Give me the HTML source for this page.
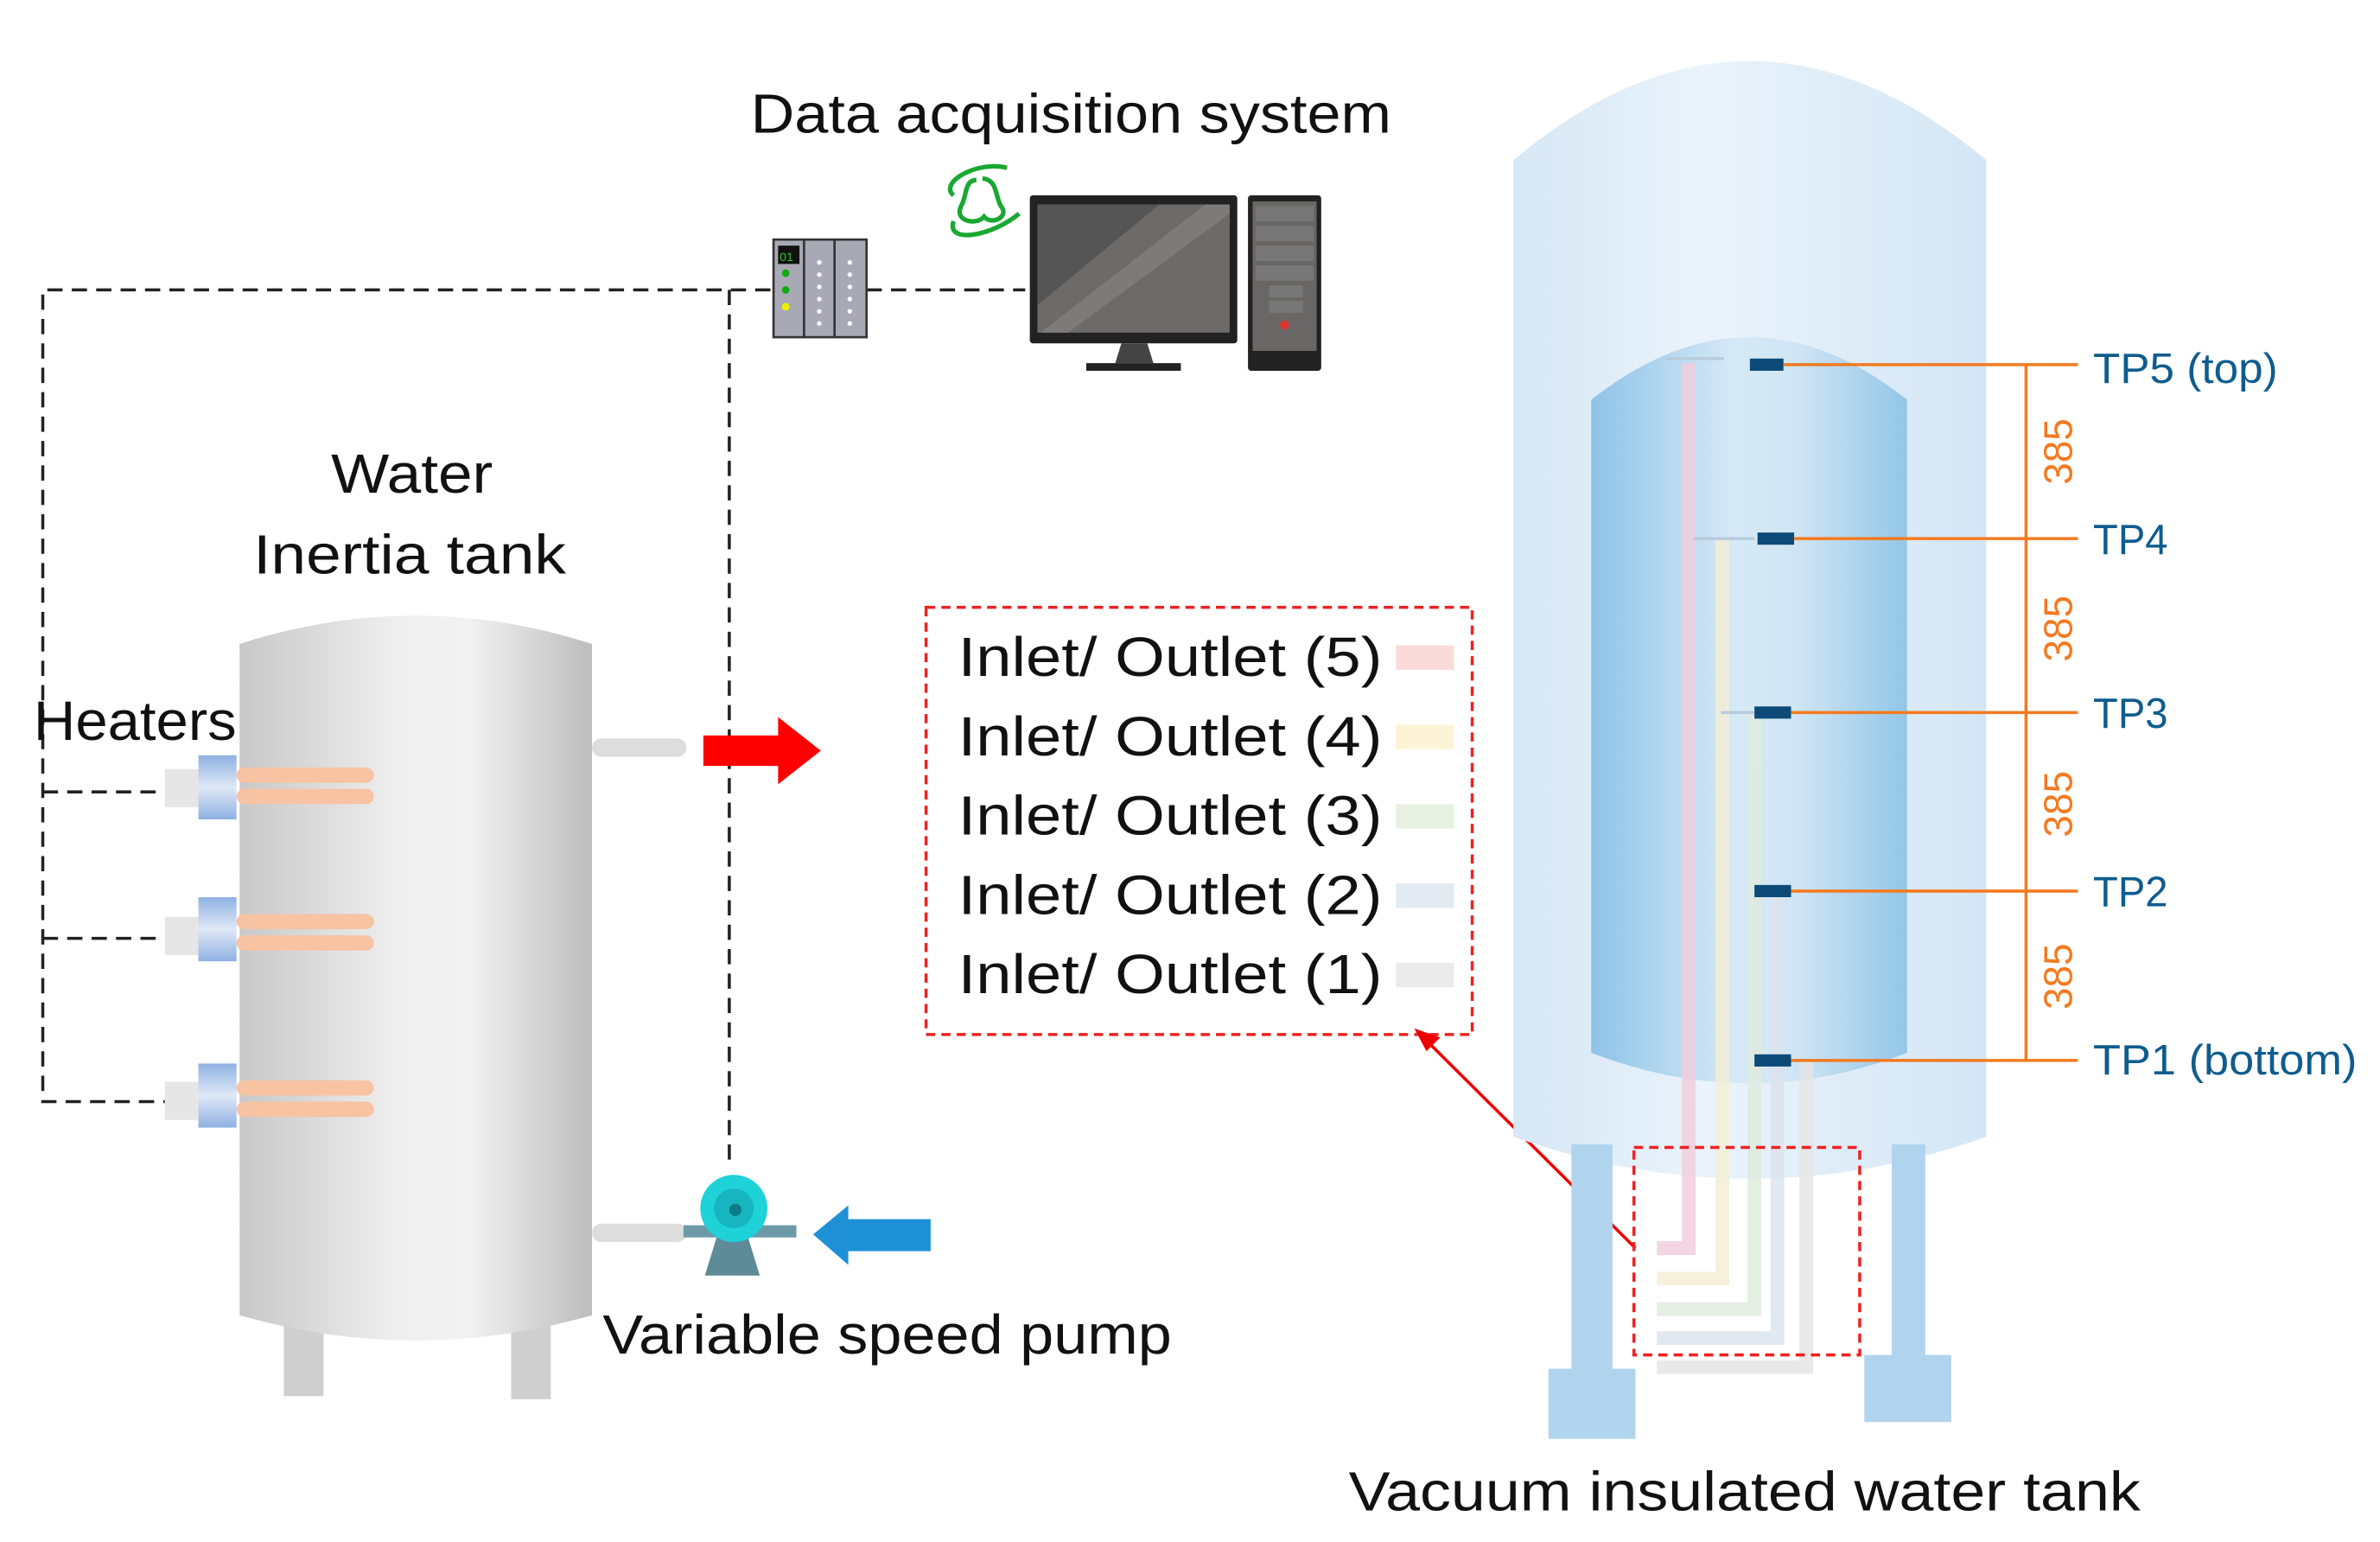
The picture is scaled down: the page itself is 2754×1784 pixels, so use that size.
<!DOCTYPE html>
<html><head><meta charset="utf-8"><style>html,body{margin:0;padding:0;background:#fff}svg{display:block}</style></head>
<body>
<svg width="2754" height="1784" viewBox="0 0 1560 1010.6" xmlns="http://www.w3.org/2000/svg" font-family="'Liberation Sans', sans-serif">
<defs>
<linearGradient id="gt" x1="0" x2="1"><stop offset="0" stop-color="#c8c8c8"/><stop offset="0.45" stop-color="#efefef"/><stop offset="0.65" stop-color="#f2f2f2"/><stop offset="1" stop-color="#bdbdbd"/></linearGradient>
<linearGradient id="go" x1="0" x2="1"><stop offset="0" stop-color="#d6e7f5"/><stop offset="0.4" stop-color="#eaf3fb"/><stop offset="1" stop-color="#d4e6f5"/></linearGradient>
<linearGradient id="gi" x1="0" x2="1"><stop offset="0" stop-color="#8ec3e8"/><stop offset="0.45" stop-color="#d6e9f6"/><stop offset="0.65" stop-color="#d0e5f4"/><stop offset="1" stop-color="#93c6e8"/></linearGradient>
<linearGradient id="gb" x1="0" x2="0" y1="0" y2="1"><stop offset="0" stop-color="#8fb1e3"/><stop offset="0.5" stop-color="#dfe8f6"/><stop offset="1" stop-color="#8fb1e3"/></linearGradient>
</defs>
<text x="492" y="87" font-size="36" textLength="420" lengthAdjust="spacingAndGlyphs" fill="#111">Data acquisition system</text>
<g stroke="#222" stroke-width="2" stroke-dasharray="10,6" fill="none">
<path d="M505 190 H28 V722 H108"/>
<path d="M28 519 H108 M28 615 H108"/>
<path d="M478 190 V760"/>
<path d="M568 190 H672"/>
</g>
<rect x="507" y="157" width="61" height="64" fill="#a9a9b5" stroke="#333" stroke-width="1.5"/>
<line x1="527" y1="157" x2="527" y2="221" stroke="#333" stroke-width="1.5"/>
<line x1="547" y1="157" x2="547" y2="221" stroke="#333" stroke-width="1.5"/>
<rect x="510" y="161" width="14" height="12" fill="#111"/>
<text x="511" y="171" font-size="8" fill="#2c2">01</text>
<circle cx="515" cy="179" r="2.5" fill="#1a1"/><circle cx="515" cy="190" r="2.5" fill="#1a1"/><circle cx="515" cy="201" r="2.5" fill="#ee0"/>
<g fill="#fff"><circle cx="537" cy="172" r="1.5"/><circle cx="537" cy="180" r="1.5"/><circle cx="537" cy="188" r="1.5"/><circle cx="537" cy="196" r="1.5"/><circle cx="537" cy="204" r="1.5"/><circle cx="537" cy="212" r="1.5"/>
<circle cx="557" cy="172" r="1.5"/><circle cx="557" cy="180" r="1.5"/><circle cx="557" cy="188" r="1.5"/><circle cx="557" cy="196" r="1.5"/><circle cx="557" cy="204" r="1.5"/><circle cx="557" cy="212" r="1.5"/></g>
<g fill="none" stroke="#1aa832" stroke-width="3">
<path d="M625 128 C615 120 640 105 660 110"/>
<path d="M625 145 C620 160 650 155 668 140"/>
<path d="M640 118 C632 118 634 128 630 135 C625 145 640 148 645 142 C650 148 662 142 656 135 C652 128 654 118 644 117"/>
</g>
<rect x="675" y="128" width="136" height="97" rx="2" fill="#222"/>
<rect x="680" y="134" width="126" height="84" fill="#6e6a6a"/>
<polygon points="680,134 760,134 680,200" fill="#555"/>
<polygon points="790,134 806,134 806,140 700,218 682,218" fill="#7e7a7a"/>
<polygon points="735,225 752,225 756,238 731,238" fill="#444"/>
<rect x="712" y="238" width="62" height="5" fill="#222"/>
<rect x="818" y="128" width="48" height="115" rx="2" fill="#222"/>
<rect x="821" y="132" width="42" height="98" fill="#6a6666"/>
<g fill="#777"><rect x="823" y="135" width="38" height="10"/><rect x="823" y="148" width="38" height="10"/><rect x="823" y="161" width="38" height="10"/><rect x="823" y="174" width="38" height="10"/><rect x="832" y="187" width="22" height="8"/><rect x="832" y="197" width="22" height="8"/></g>
<circle cx="842" cy="213" r="3" fill="#d33"/>
<text x="217" y="323" font-size="36" textLength="106" lengthAdjust="spacingAndGlyphs" fill="#111">Water</text>
<text x="166" y="376" font-size="36" textLength="205" lengthAdjust="spacingAndGlyphs" fill="#111">Inertia  tank</text>
<rect x="186" y="855" width="26" height="60" fill="#cfcfcf"/>
<rect x="335" y="855" width="26" height="62" fill="#cfcfcf"/>
<path d="M157 422 Q272 385 388 422 V862 Q272 895 157 862 Z" fill="url(#gt)"/>
<rect x="388" y="484" width="62" height="12" rx="6" fill="#ddd"/>
<rect x="388" y="802" width="62" height="12" rx="6" fill="#ddd"/>
<text x="22" y="485" font-size="36" textLength="133" lengthAdjust="spacingAndGlyphs" fill="#111">Heaters</text>
<g>
<rect x="108" y="504" width="24" height="25" fill="#e6e6e6"/><rect x="130" y="495" width="25" height="42" fill="url(#gb)"/>
<rect x="155" y="503" width="90" height="10" rx="5" fill="#f7c3a2"/><rect x="155" y="517" width="90" height="10" rx="5" fill="#f7c3a2"/>
<rect x="108" y="601" width="24" height="25" fill="#e6e6e6"/><rect x="130" y="588" width="25" height="42" fill="url(#gb)"/>
<rect x="155" y="599" width="90" height="10" rx="5" fill="#f7c3a2"/><rect x="155" y="613" width="90" height="10" rx="5" fill="#f7c3a2"/>
<rect x="108" y="709" width="24" height="25" fill="#e6e6e6"/><rect x="130" y="697" width="25" height="42" fill="url(#gb)"/>
<rect x="155" y="708" width="90" height="10" rx="5" fill="#f7c3a2"/><rect x="155" y="722" width="90" height="10" rx="5" fill="#f7c3a2"/>
</g>
<polygon points="461,482 510,482 510,470 538,492 510,514 510,502 461,502" fill="#f00"/>
<polygon points="533,809 556,790 556,799 610,799 610,820 556,820 556,829" fill="#1e90d6"/>
<rect x="448" y="803" width="74" height="8" fill="#6d9aa8"/>
<polygon points="470,810 490,810 498,836 462,836" fill="#5f8a98"/>
<circle cx="481" cy="792" r="22" fill="#1ed2d8"/>
<circle cx="481" cy="792" r="13" fill="#17b5bf"/>
<circle cx="482" cy="793" r="4" fill="#0c7c86"/>
<text x="395" y="887" font-size="36" textLength="373" lengthAdjust="spacingAndGlyphs" fill="#111">Variable speed  pump</text>
<rect x="607" y="398" width="358" height="280" fill="none" stroke="#e22" stroke-width="2" stroke-dasharray="6,4"/>
<g font-size="36" fill="#111">
<text x="628" y="443" textLength="278" lengthAdjust="spacingAndGlyphs">Inlet/ Outlet (5)</text>
<text x="628" y="495" textLength="278" lengthAdjust="spacingAndGlyphs">Inlet/ Outlet (4)</text>
<text x="628" y="547" textLength="278" lengthAdjust="spacingAndGlyphs">Inlet/ Outlet (3)</text>
<text x="628" y="599" textLength="278" lengthAdjust="spacingAndGlyphs">Inlet/ Outlet (2)</text>
<text x="628" y="651" textLength="278" lengthAdjust="spacingAndGlyphs">Inlet/ Outlet (1)</text>
</g>
<rect x="915" y="423" width="38" height="16" fill="#fbdada"/>
<rect x="915" y="475" width="38" height="16" fill="#fdf3d6"/>
<rect x="915" y="527" width="38" height="16" fill="#e8f0e2"/>
<rect x="915" y="579" width="38" height="16" fill="#e4eaf2"/>
<rect x="915" y="631" width="38" height="16" fill="#ebebeb"/>
<line x1="1072" y1="818" x2="934" y2="681" stroke="#e00" stroke-width="2"/>
<polygon points="927,674 944,680 935,689" fill="#e00"/>
<path d="M992 105 Q1147 -25 1302 105 V745 Q1147 800 992 745 Z" fill="url(#go)"/>
<rect x="1030" y="750" width="27" height="150" fill="#b1d4ee"/>
<rect x="1015" y="897" width="57" height="46" fill="#b1d4ee"/>
<rect x="1240" y="750" width="22" height="140" fill="#b1d4ee"/>
<rect x="1222" y="888" width="57" height="44" fill="#b1d4ee"/>
<path d="M1043 262 Q1147 180 1250 262 V690 Q1147 730 1043 690 Z" fill="url(#gi)"/>
<g fill="none" stroke-width="9" opacity="0.85">
<path d="M1107 238 V818 H1086" stroke="#f2cfdc"/>
<path d="M1129 352 V838 H1086" stroke="#f4efd8"/>
<path d="M1150 467 V858 H1086" stroke="#e0ecdf"/>
<path d="M1165 584 V877 H1086" stroke="#dde4ee"/>
<path d="M1184 694 V896 H1086" stroke="#e6e6e6"/>
</g>
<g stroke="#b8ccdc" stroke-width="2"><line x1="1092" y1="235" x2="1130" y2="235"/><line x1="1110" y1="353" x2="1150" y2="353"/><line x1="1128" y1="467" x2="1160" y2="467"/></g>
<rect x="1071" y="752" width="148" height="136" fill="none" stroke="#e22" stroke-width="2" stroke-dasharray="6,4"/>
<g fill="#0d4a78"><rect x="1147" y="235" width="22" height="8"/><rect x="1152" y="349" width="24" height="8"/><rect x="1150" y="463" width="24" height="8"/><rect x="1150" y="580" width="24" height="8"/><rect x="1150" y="691" width="24" height="8"/></g>
<g stroke="#f47a20" stroke-width="2" fill="none">
<line x1="1169" y1="239" x2="1362" y2="239"/><line x1="1176" y1="353" x2="1362" y2="353"/><line x1="1174" y1="467" x2="1362" y2="467"/><line x1="1174" y1="584" x2="1362" y2="584"/><line x1="1174" y1="695" x2="1362" y2="695"/>
<line x1="1328" y1="239" x2="1328" y2="695"/>
</g>
<g font-size="26" fill="#f47a20">
<text transform="translate(1358,296) rotate(-90)" text-anchor="middle">385</text>
<text transform="translate(1358,412) rotate(-90)" text-anchor="middle">385</text>
<text transform="translate(1358,527) rotate(-90)" text-anchor="middle">385</text>
<text transform="translate(1358,640) rotate(-90)" text-anchor="middle">385</text>
</g>
<g font-size="28" fill="#0f5c8e">
<text x="1372" y="251" textLength="121" lengthAdjust="spacingAndGlyphs">TP5 (top)</text>
<text x="1372" y="363" textLength="49" lengthAdjust="spacingAndGlyphs">TP4</text>
<text x="1372" y="477" textLength="49" lengthAdjust="spacingAndGlyphs">TP3</text>
<text x="1372" y="594" textLength="49" lengthAdjust="spacingAndGlyphs">TP2</text>
<text x="1372" y="704" textLength="173" lengthAdjust="spacingAndGlyphs">TP1 (bottom)</text>
</g>
<text x="884" y="990" font-size="36" textLength="519" lengthAdjust="spacingAndGlyphs" fill="#111">Vacuum insulated water tank</text>
</svg>
</body></html>
